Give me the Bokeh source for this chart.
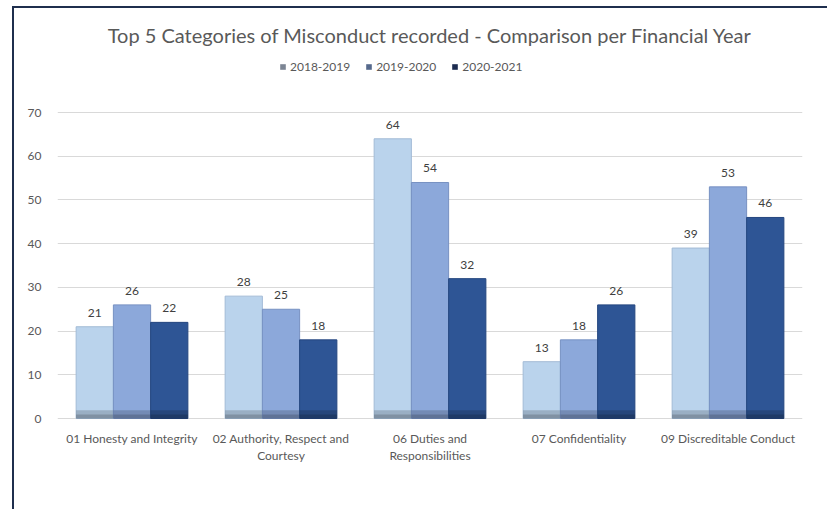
from bokeh.plotting import figure
from bokeh.models import (ColumnDataSource, FactorRange, Range1d, Legend, LegendItem,
                          LabelSet, FixedTicker)
from bokeh.core.properties import value
from bokeh.transform import dodge
from bokeh.embed import file_html
from bokeh.resources import INLINE

categories = ["01 Honesty and Integrity", "02 Authority, Respect and Courtesy",
              "06 Duties and Responsibilities", "07 Confidentiality",
              "09 Discreditable Conduct"]
cat_line1 = ["01 Honesty and Integrity", "02 Authority, Respect and",
             "06 Duties and", "07 Confidentiality", "09 Discreditable Conduct"]
cat_line2 = ["", "Courtesy", "Responsibilities", "", ""]
years = ["2018-2019", "2019-2020", "2020-2021"]
v2018 = [21, 28, 64, 13, 39]
v2019 = [26, 25, 54, 18, 53]
v2020 = [22, 18, 32, 26, 46]
y_ticks = [0, 10, 20, 30, 40, 50, 60, 70]

bar_colors = ["#BAD3EC", "#8CA8DA", "#2E5595"]
edge_colors = ["#A3BBD6", "#7791C2", "#24467F"]
legend_colors = ["#7C8594", "#56698C", "#1C2C50"]

FONT = "Lato"

src = ColumnDataSource(dict(cat=categories, l1=cat_line1, l2=cat_line2, zero=[0] * 5,
                            a=v2018, b=v2019, c=v2020,
                            ta=[str(v) for v in v2018],
                            tb=[str(v) for v in v2019],
                            tc=[str(v) for v in v2020]))

# y range extends below 0 and above 70 to leave room for category labels and legend
p = figure(x_range=FactorRange(*categories), y_range=Range1d(-19.9, 84.2),
           width=815, height=503, output_backend="svg", toolbar_location=None,
           min_border_left=43, min_border_right=27, min_border_bottom=6,
           min_border_top=42)
p.margin = (6, 0, 0, 12)
p.styles = {"border-left": "2px solid #1F2F4E", "border-top": "2px solid #1F2F4E"}
p.outline_line_color = None
p.background_fill_color = "white"
p.border_fill_color = "white"

# Title
p.title.text = "Top 5 Categories of Misconduct recorded - Comparison per Financial Year"
p.title.align = "center"
p.title.text_font = FONT
p.title.text_font_size = "20px"
p.title.text_font_style = "normal"
p.title.text_color = "#595959"
p.title.standoff = 8

offsets = [-0.25, 0.0, 0.25]
cols = ["a", "b", "c"]
tcols = ["ta", "tb", "tc"]
for i in range(3):
    x = dodge("cat", offsets[i], range=p.x_range)
    p.vbar(x=x, top=cols[i], width=0.25, source=src,
           fill_color=bar_colors[i], line_color=edge_colors[i], line_width=1)
    # darker shaded base (3D effect)
    p.vbar(x=x, top=1.9, bottom=0, width=0.25, source=src,
           fill_color="black", fill_alpha=0.17, line_color=None)
    p.vbar(x=x, top=0.9, bottom=0, width=0.25, source=src,
           fill_color="black", fill_alpha=0.17, line_color=None)
    labels = LabelSet(x=x, y=cols[i], text=tcols[i], source=src,
                      text_align="center", text_baseline="bottom", y_offset=10,
                      text_font=value(FONT), text_font_size="12px", text_color="#404040")
    p.add_layout(labels)

# Category labels (two centred lines, under the baseline)
for txt, off in (("l1", -12), ("l2", -29)):
    p.add_layout(LabelSet(x="cat", y="zero", text=txt, source=src,
                          text_align="center", text_baseline="top", y_offset=off,
                          text_font=value(FONT), text_font_size="12px",
                          text_color="#595959"))

# Legend (markers shown in greyish tones as in the reference)
dummies = []
for i in range(3):
    r = p.vbar(x=[categories[0]], top=[0], width=0.0, fill_color=legend_colors[i],
               line_color=None)
    dummies.append(r)
legend = Legend(items=[LegendItem(label=years[i], renderers=[dummies[i]]) for i in range(3)],
                orientation="horizontal", location=(222, 431),
                glyph_width=7, glyph_height=7, label_standoff=4, spacing=15,
                padding=0, margin=0, border_line_color=None,
                background_fill_alpha=0,
                label_text_font=FONT, label_text_font_size="12px",
                label_text_color="#595959")
p.add_layout(legend, "center")

# Axes
p.yaxis.ticker = FixedTicker(ticks=y_ticks)
p.yaxis.axis_line_color = None
p.yaxis.major_tick_line_color = None
p.yaxis.minor_tick_line_color = None
p.yaxis.major_label_text_font = FONT
p.yaxis.major_label_text_font_size = "12px"
p.yaxis.major_label_text_color = "#595959"
p.yaxis.major_label_standoff = 10

p.xaxis.visible = False

p.xgrid.grid_line_color = None
p.ygrid.ticker = FixedTicker(ticks=y_ticks)
p.ygrid.grid_line_color = "#D9D9D9"
p.ygrid.grid_line_width = 1
p.x_range.range_padding = 0
p.x_range.factor_padding = 0

open("out.html", "w").write(file_html(p, INLINE))
